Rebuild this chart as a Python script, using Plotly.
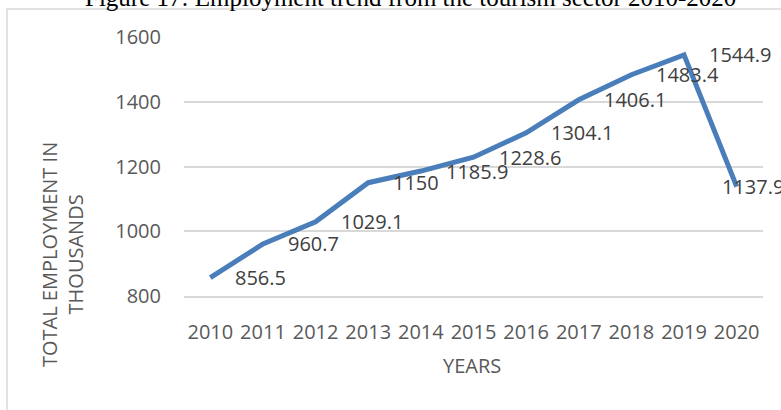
import plotly.graph_objects as go

# Tourism-sector employment, thousands
years = ["2010", "2011", "2012", "2013", "2014", "2015",
         "2016", "2017", "2018", "2019", "2020"]
employment = [856.5, 960.7, 1029.1, 1150, 1185.9, 1228.6,
              1304.1, 1406.1, 1483.4, 1544.9, 1137.9]
y_ticks = [800, 1000, 1200, 1400, 1600]

W, H = 781, 410
L, R, T, B = 184, 18, 37, 114
PW, PH = W - L - R, H - T - B

def px_x(px):
    return (px - L) / PW

def px_y(py):
    return (H - B - py) / PH

FONT = "Open Sans, Lato, sans-serif"
FS = 20
GRID = "#d9d9d9"
BLUE = "#4A7EBB"

fig = go.Figure()
fig.add_trace(go.Scatter(
    x=years, y=employment, mode="lines",
    line=dict(color=BLUE, width=5),
    hoverinfo="skip", showlegend=False,
))

# value labels to the right of each point (last one pulled back inside);
# category axis positions are given by index
annotations = []
for i, v in enumerate(employment):
    annotations.append(dict(
        x=i, y=v, xref="x", yref="y", text=f"{v:g}", showarrow=False,
        xanchor="left", yanchor="middle",
        xshift=23 if i < len(years) - 1 else -17,
        font=dict(family=FONT, size=FS, color="#404040"),
    ))

# figure caption, partly above the canvas
annotations.append(dict(
    x=px_x(410), y=px_y(-3), xref="paper", yref="paper",
    text="Figure 17: Employment trend from the tourism sector 2010-2020",
    showarrow=False, xanchor="center", yanchor="middle",
    font=dict(family="Liberation Serif, Times New Roman, serif", size=25, color="#000000"),
))

# axis titles
annotations.append(dict(
    x=px_x(62), y=px_y(255), xref="paper", yref="paper",
    text="TOTAL EMPLOYMENT IN<br>THOUSANDS", textangle=-90,
    showarrow=False, xanchor="center", yanchor="middle",
    font=dict(family=FONT, size=FS, color="#595959"),
))
annotations.append(dict(
    x=px_x(472), y=px_y(365), xref="paper", yref="paper",
    text="YEARS", showarrow=False, xanchor="center", yanchor="middle",
    font=dict(family=FONT, size=FS, color="#595959"),
))

# chart-area frame
shapes = [dict(
    type="rect", xref="paper", yref="paper",
    x0=px_x(7), y0=px_y(H + 20), x1=px_x(W + 20), y1=px_y(9),
    line=dict(color=GRID, width=1.5), fillcolor="rgba(0,0,0,0)", layer="below",
)]

fig.update_layout(
    width=W, height=H,
    margin=dict(l=L, r=R, t=T, b=B, autoexpand=False),
    paper_bgcolor="white", plot_bgcolor="white",
    annotations=annotations, shapes=shapes,
    xaxis=dict(
        type="category", showgrid=False, zeroline=False,
        showline=True, linecolor=GRID, linewidth=1.5,
        ticks="", ticklabelstandoff=17, tickangle=0,
        tickfont=dict(family=FONT, size=FS, color="#595959"),
        range=[-0.5, len(years) - 0.5],
    ),
    yaxis=dict(
        range=[800, 1600], tickvals=y_ticks,
        showgrid=True, gridcolor=GRID, gridwidth=1.5, zeroline=False,
        showline=False, ticks="", ticklabelstandoff=22,
        tickfont=dict(family=FONT, size=FS, color="#595959"),
    ),
)

fig.write_html("out.html")
